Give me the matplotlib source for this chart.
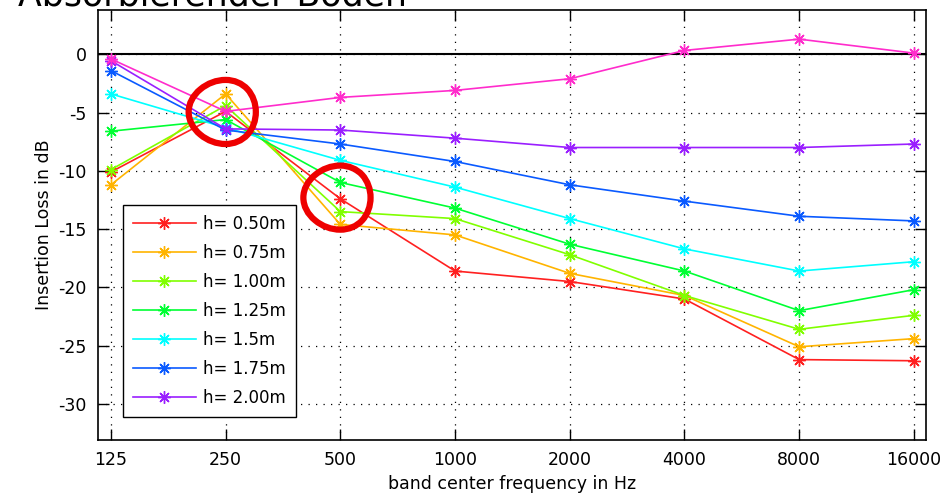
import matplotlib
matplotlib.use('Agg')
import matplotlib.pyplot as plt
from matplotlib.patches import Ellipse

# band centre frequencies (Hz)
freqs = [125, 250, 500, 1000, 2000, 4000, 8000, 16000]
tick_labels = ['125', '250', '500', '1000', '2000', '4000', '8000', '16000']

# insertion loss in dB per barrier height
il_050 = [-10.1, -4.9, -12.4, -18.6, -19.5, -21.0, -26.2, -26.3]
il_075 = [-11.2, -3.4, -14.6, -15.5, -18.8, -20.7, -25.1, -24.4]
il_100 = [-9.9, -4.4, -13.5, -14.1, -17.2, -20.7, -23.6, -22.4]
il_125 = [-6.6, -5.6, -11.0, -13.2, -16.3, -18.6, -22.0, -20.2]
il_150 = [-3.4, -6.3, -9.1, -11.4, -14.1, -16.7, -18.6, -17.8]
il_175 = [-1.4, -6.5, -7.7, -9.2, -11.2, -12.6, -13.9, -14.3]
il_200 = [-0.55, -6.4, -6.5, -7.2, -8.0, -8.0, -8.0, -7.7]
il_ref = [-0.4, -4.9, -3.7, -3.1, -2.1, 0.33, 1.3, 0.1]

labels = ['h= 0.50m', 'h= 0.75m', 'h= 1.00m', 'h= 1.25m', 'h= 1.5m', 'h= 1.75m', 'h= 2.00m']
series = [il_050, il_075, il_100, il_125, il_150, il_175, il_200]
colors = ['#ff2020', '#ffb400', '#80ff00', '#00ff33', '#00ffff', '#0a5aff', '#9a1fff']

fig = plt.figure(figsize=(9.41, 4.95), dpi=100)
ax = fig.add_axes([0.1041, 0.1111, 0.8799, 0.8687])
ax.set_xscale('log', base=2)

for vals, col, lab in zip(series, colors, labels):
    ax.plot(freqs, vals, color=col, lw=1.2, marker=(8, 2, 0), ms=9, mew=1.0, label=lab, zorder=3)
ax.plot(freqs, il_ref, color='#ff2ccc', lw=1.2, marker=(8, 2, 0), ms=9, mew=1.0, label='_nolegend_', zorder=3)

ax.axhline(0, color='black', lw=1.5, zorder=2)

# highlight circles
for fc, yc in [(250, -4.95), (500, -12.3)]:
    ax.add_patch(Ellipse((fc, yc), width=fc * (2 ** 0.287 - 2 ** -0.287), height=5.5,
                         fill=False, edgecolor='#ee0000', lw=4.5, zorder=5))

ax.set_xlim(125 * 2 ** -0.113, 16000 * 2 ** 0.105)
ax.set_ylim(-33.1, 3.8)
ax.set_xticks(freqs)
ax.set_xticklabels(tick_labels)
ax.minorticks_off()
ax.set_yticks([0, -5, -10, -15, -20, -25, -30])
ax.set_yticklabels(['0', '-5', '-10', '-15', '-20', '-25', '-30'])
ax.tick_params(direction='in', top=True, right=True, length=8, width=1, labelsize=12.5, pad=8)
ax.grid(True, color='black', linestyle=(0, (1, 5)), lw=0.9)
for s in ax.spines.values():
    s.set_linewidth(1.2)

ax.set_xlabel('band center frequency in Hz', fontsize=12.5, labelpad=4)
ax.set_ylabel('Insertion Loss in dB', fontsize=12.5, labelpad=4)

leg = ax.legend(loc='lower left', bbox_to_anchor=(0.030, 0.053), borderaxespad=0,
                fontsize=12, handlelength=3.8, labelspacing=0.66, fancybox=False,
                framealpha=1, edgecolor='black', borderpad=0.6, handletextpad=0.4)
leg.get_frame().set_linewidth(1.0)

# title is clipped at the top edge, as in the original slide
fig.text(0.019, 1 - 6 / 495, 'Absorbierender Boden', fontsize=25, va='baseline', ha='left')

fig.savefig('out.png', dpi=100)
